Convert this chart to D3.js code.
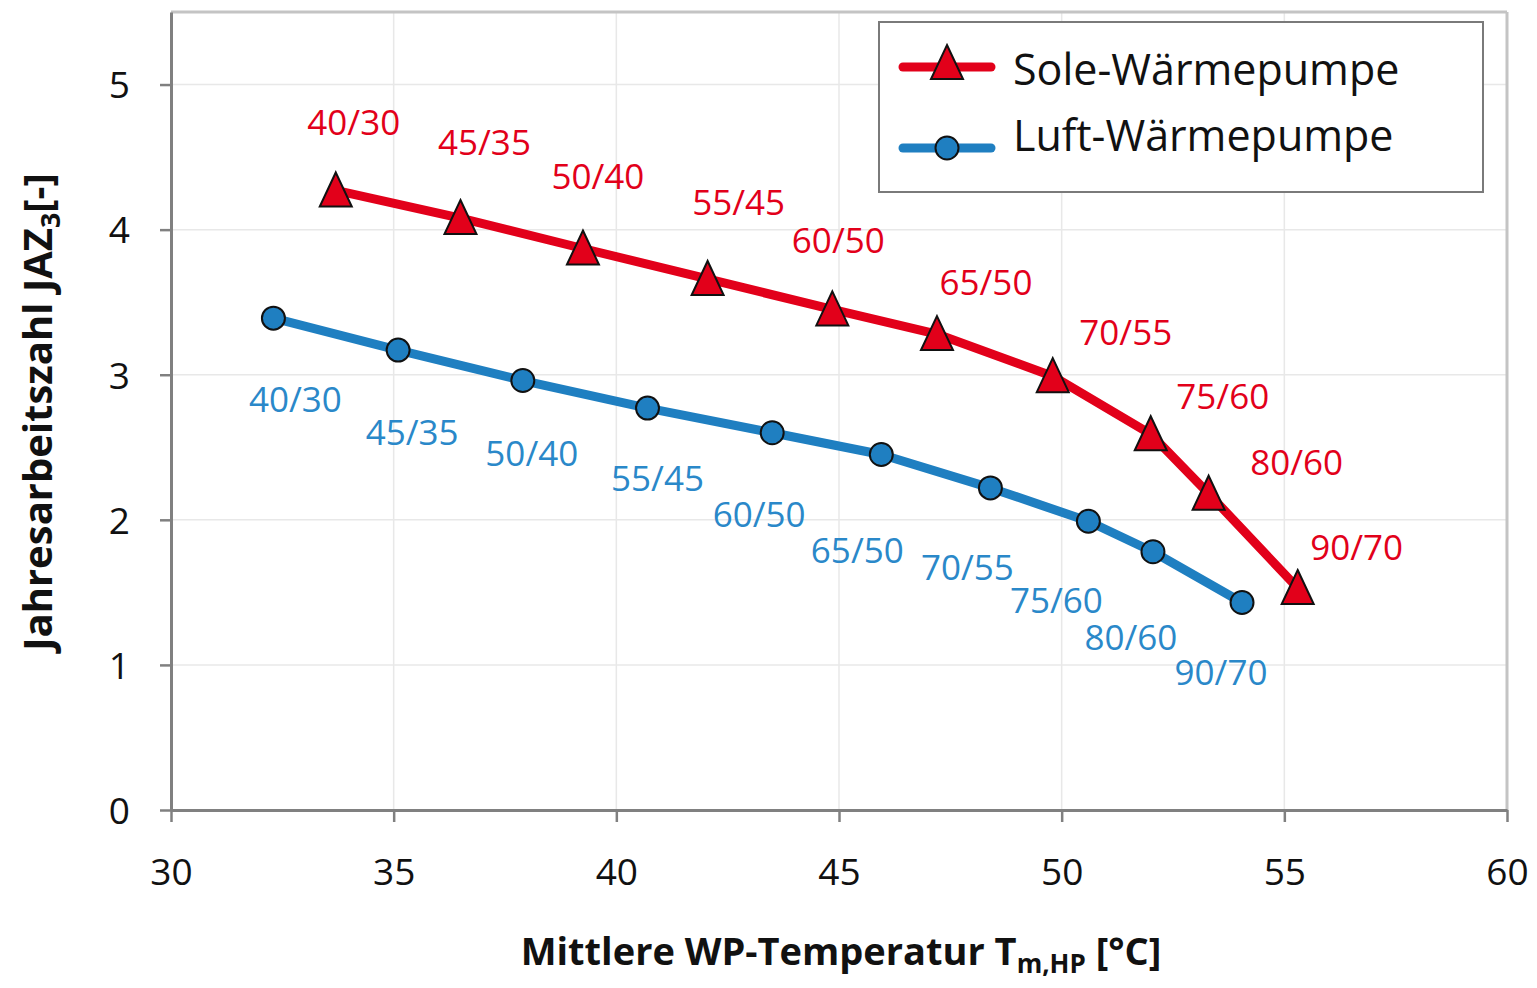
<!DOCTYPE html>
<html>
<head>
<meta charset="utf-8">
<script src="https://cdn.jsdelivr.net/npm/d3@7"></script>
<style>
  body { margin: 0; background: #fff; }
  text { font-family: "Open Sans", sans-serif; }
</style>
</head>
<body>
<svg id="chart" width="1537" height="988"></svg>
<script>
// data
const pointLabels = ["40/30", "45/35", "50/40", "55/45", "60/50", "65/50", "70/55", "75/60", "80/60", "90/70"];
const soleX = [33.7, 36.5, 39.25, 42.05, 44.85, 47.2, 49.8, 52.0, 53.3, 55.3];
const soleY = [4.27, 4.08, 3.87, 3.66, 3.45, 3.28, 2.99, 2.59, 2.18, 1.53];
const luftX = [32.3, 35.1, 37.9, 40.7, 43.5, 45.95, 48.4, 50.6, 52.05, 54.05];
const luftY = [3.39, 3.17, 2.96, 2.77, 2.6, 2.45, 2.22, 1.99, 1.78, 1.43];
const xTicks = [30, 35, 40, 45, 50, 55, 60];
const yTicks = [0, 1, 2, 3, 4, 5];
const seriesNames = ["Sole-Wärmepumpe", "Luft-Wärmepumpe"];

// label offsets in px (hand placed, like the excel data labels)
const soleLabelDx = [18, 24, 15, 31, 6, 49, 73, 72, 88, 59];
const soleLabelDy = [-68, -76, -72, -77, -69, -52, -44, -38, -31, -41];
const luftLabelDx = [22, 14, 9, 10, -13, -24, -23, -32, -22, -21];
const luftLabelDy = [81, 82, 73, 70, 82, 96, 80, 79, 86, 70];

const red = "#e2001a";
const blue = "#1f7fc1";
const labelBlue = "#2a88c9";

const svg = d3.select("svg#chart");
const width = +svg.attr("width");
const height = +svg.attr("height");
const margin = { top: 12, right: 30, bottom: 178, left: 171 };
const chartWidth = width - margin.left - margin.right;
const chartHeight = height - margin.top - margin.bottom;

const x = d3.scaleLinear().domain([30, 60]).range([0, chartWidth]);
const y = d3.scaleLinear().domain([0, 5.5]).range([chartHeight, 0]);

const g = svg.append("g").attr("transform", `translate(${margin.left},${margin.top})`);

// grid
g.selectAll("line.vgrid").data(xTicks.slice(1, -1)).enter().append("line")
	.attr("x1", d => x(d)).attr("x2", d => x(d))
	.attr("y1", 0).attr("y2", chartHeight)
	.style("stroke", "#e8e8e8").style("stroke-width", 1.5);
g.selectAll("line.hgrid").data(yTicks.slice(1)).enter().append("line")
	.attr("x1", 0).attr("x2", chartWidth)
	.attr("y1", d => y(d)).attr("y2", d => y(d))
	.style("stroke", "#e8e8e8").style("stroke-width", 1.5);

// top and right frame
g.append("line").attr("x1", 0).attr("x2", chartWidth).attr("y1", 0).attr("y2", 0)
	.style("stroke", "#c4c4c4").style("stroke-width", 3);
g.append("line").attr("x1", chartWidth).attr("x2", chartWidth).attr("y1", 0).attr("y2", chartHeight)
	.style("stroke", "#c4c4c4").style("stroke-width", 3);

// axes
const xAxis = g.append("g").attr("transform", `translate(0,${chartHeight})`)
	.call(d3.axisBottom(x).tickValues(xTicks).tickFormat(d3.format("d")).tickSize(12).tickSizeOuter(0).tickPadding(36));
const yAxis = g.append("g")
	.call(d3.axisLeft(y).tickValues(yTicks).tickFormat(d3.format("d")).tickSize(11).tickSizeOuter(0).tickPadding(30));
[xAxis, yAxis].forEach(function (a) {
	a.select(".domain").style("stroke", "#808080").style("stroke-width", 3);
	a.selectAll(".tick line").style("stroke", "#808080").style("stroke-width", 2.5);
	a.selectAll(".tick text").style("font-size", "37px").style("fill", "#111")
		.style("font-family", "'Open Sans', sans-serif");
});
xAxis.selectAll(".tick text").attr("dy", "0.72em");
yAxis.selectAll(".tick text").attr("dy", "0.36em");

// lines
const sole = soleX.map((v, i) => ({ x: v, y: soleY[i], label: pointLabels[i], dx: soleLabelDx[i], dy: soleLabelDy[i] }));
const luft = luftX.map((v, i) => ({ x: v, y: luftY[i], label: pointLabels[i], dx: luftLabelDx[i], dy: luftLabelDy[i] }));
const line = d3.line().x(d => x(d.x)).y(d => y(d.y));

g.append("path").datum(luft).attr("d", line)
	.style("fill", "none").style("stroke", blue).style("stroke-width", 9).style("stroke-linejoin", "round");
g.append("path").datum(sole).attr("d", line)
	.style("fill", "none").style("stroke", red).style("stroke-width", 9).style("stroke-linejoin", "round");

const triangle = "M0,-18L16,16L-16,16Z";

g.selectAll("circle.luft").data(luft).enter().append("circle")
	.attr("cx", d => x(d.x)).attr("cy", d => y(d.y)).attr("r", 11.5)
	.style("fill", blue).style("stroke", "#111").style("stroke-width", 2);
g.selectAll("path.sole").data(sole).enter().append("path")
	.attr("d", triangle)
	.attr("transform", d => `translate(${x(d.x)},${y(d.y)})`)
	.style("fill", red).style("stroke", "#111").style("stroke-width", 2);

// data labels
g.selectAll("text.sole").data(sole).enter().append("text")
	.attr("x", d => x(d.x) + d.dx).attr("y", d => y(d.y) + d.dy)
	.attr("text-anchor", "middle").attr("dy", "0.36em")
	.style("font-size", "35px").style("fill", red)
	.text(d => d.label);
g.selectAll("text.luft").data(luft).enter().append("text")
	.attr("x", d => x(d.x) + d.dx).attr("y", d => y(d.y) + d.dy)
	.attr("text-anchor", "middle").attr("dy", "0.36em")
	.style("font-size", "35px").style("fill", labelBlue)
	.text(d => d.label);

// legend
const legend = svg.append("g").attr("transform", "translate(879,22)");
legend.append("rect").attr("width", 604).attr("height", 170)
	.style("fill", "#fff").style("stroke", "#7a7a7a").style("stroke-width", 2);
const legendRows = [
	{ name: seriesNames[0], color: red, marker: "tri", cy: 45 },
	{ name: seriesNames[1], color: blue, marker: "circ", cy: 126 }
];
legendRows.forEach(function (r) {
	legend.append("line").attr("x1", 24).attr("x2", 112).attr("y1", r.cy).attr("y2", r.cy)
		.style("stroke", r.color).style("stroke-width", 9).style("stroke-linecap", "round");
	if (r.marker === "tri") {
		legend.append("path").attr("d", triangle)
			.attr("transform", `translate(68,${r.cy - 4})`)
			.style("fill", red).style("stroke", "#111").style("stroke-width", 2);
	} else {
		legend.append("circle").attr("cx", 68).attr("cy", r.cy).attr("r", 11.5)
			.style("fill", blue).style("stroke", "#111").style("stroke-width", 2);
	}
	legend.append("text").attr("x", 134).attr("y", r.cy + (r.marker === "tri" ? 3 : -12))
		.attr("dy", "0.36em").style("font-size", "43px").style("fill", "#111")
		.text(r.name);
});

// axis titles
const xTitle = svg.append("text")
	.attr("x", 841).attr("y", 965)
	.attr("text-anchor", "middle")
	.style("font-size", "38px").style("font-weight", "bold").style("fill", "#111");
xTitle.append("tspan").text("Mittlere WP-Temperatur T");
xTitle.append("tspan").attr("dy", 8).style("font-size", "26px").text("m,HP");
xTitle.append("tspan").attr("dy", -8).text(" [°C]");

const yTitle = svg.append("text")
	.attr("transform", "translate(52,412) rotate(-90)")
	.attr("text-anchor", "middle")
	.style("font-size", "40px").style("font-weight", "bold").style("fill", "#111");
yTitle.append("tspan").text("Jahresarbeitszahl JAZ");
yTitle.append("tspan").attr("dy", 8).style("font-size", "27px").text("3");
yTitle.append("tspan").attr("dy", -8).text("[-]");
</script>
</body>
</html>
